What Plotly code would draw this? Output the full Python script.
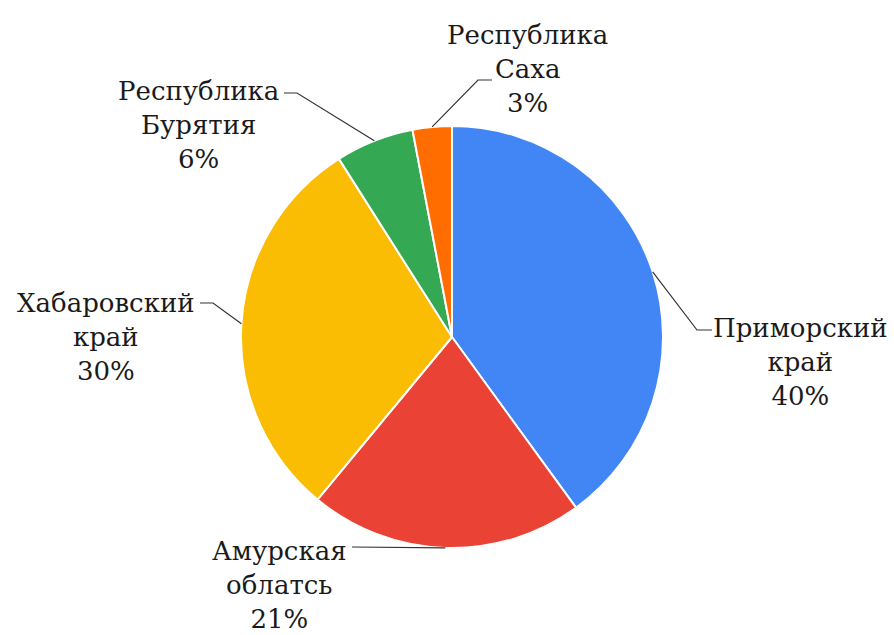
import math
import plotly.graph_objects as go

# Regions and their shares (%)
regions = ["Приморский край", "Амурская облатсь", "Хабаровский край",
           "Республика Бурятия", "Республика Саха"]
label_lines = ["Приморский<br>край", "Амурская<br>облатсь", "Хабаровский<br>край",
               "Республика<br>Бурятия", "Республика<br>Саха"]
shares = [40, 21, 30, 6, 3]
colors = ["#4285F4", "#EA4335", "#FBBC04", "#34A853", "#FF6D01"]

W, H = 894, 635
CX, CY, R = 452, 337, 211  # pie centre and radius in pixels

# Label placement (label centre, elbow point, end of the horizontal tick) in pixels
label_pos = [(800, 362), (279, 585), (106, 337), (198, 125), (527, 69)]
elbows = [((697, 330), (712, 330)),
          ((352, 547), (352, 547)),
          ((213, 303), (200, 303)),
          ((297, 93), (284, 93)),
          ((478, 80), (492, 80))]


def px(x, y):
    return x / W, 1 - y / H


fig = go.Figure(go.Pie(
    values=shares,
    labels=regions,
    sort=False,
    direction="clockwise",
    rotation=0,
    marker=dict(colors=colors, line=dict(color="white", width=2)),
    textinfo="none",
    hoverinfo="label+percent",
    showlegend=False,
    domain=dict(x=[(CX - R) / W, (CX + R) / W],
                y=[1 - (CY + R) / H, 1 - (CY - R) / H]),
))

total = sum(shares)
cum = 0
shapes, annotations = [], []
for i, v in enumerate(shares):
    mid = (cum + v / 2) / total * 2 * math.pi
    cum += v
    ex, ey = CX + R * math.sin(mid), CY - R * math.cos(mid)
    (bx, by), (tx, ty) = elbows[i]
    p0, p1, p2 = px(ex, ey), px(bx, by), px(tx, ty)
    shapes.append(dict(
        type="path", xref="paper", yref="paper",
        path=f"M {p0[0]},{p0[1]} L {p1[0]},{p1[1]} L {p2[0]},{p2[1]}",
        line=dict(color="#333333", width=1.2),
    ))
    lx, ly = px(*label_pos[i])
    annotations.append(dict(
        x=lx, y=ly, xref="paper", yref="paper",
        xanchor="center", yanchor="middle", showarrow=False,
        text=f"{label_lines[i]}<br>{v}%", align="center",
        font=dict(family="DejaVu Serif", size=26, color="#1a1a1a"),
    ))

fig.update_layout(
    width=W, height=H,
    margin=dict(l=0, r=0, t=0, b=0),
    paper_bgcolor="white", plot_bgcolor="white",
    shapes=shapes, annotations=annotations,
)

fig.write_html("out.html")
